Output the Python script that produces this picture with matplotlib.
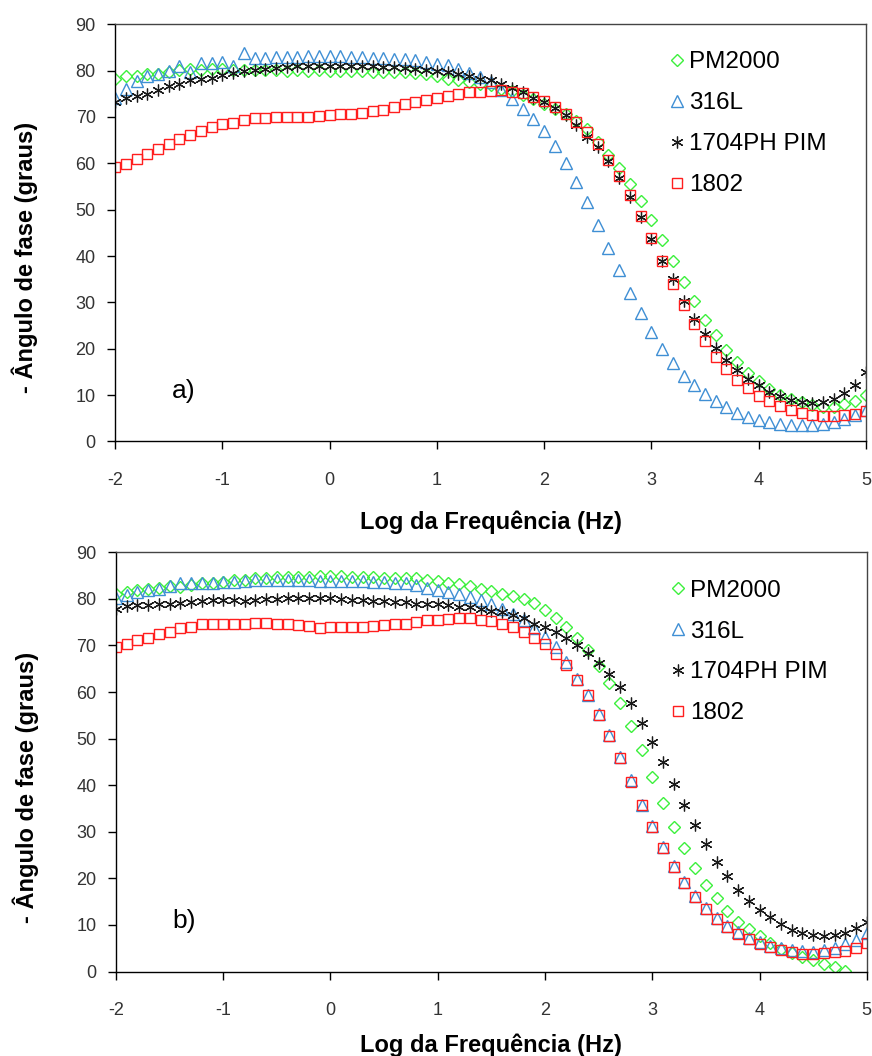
"""Phase angle vs log frequency (Bode plots) for four alloys, panels a) and b)."""

import matplotlib

matplotlib.use("Agg")
import matplotlib.pyplot as plt
import numpy as np

plt.rcParams["font.family"] = ["Liberation Sans", "DejaVu Sans"]
plt.rcParams["axes.unicode_minus"] = False

# log10 of frequency, measured every 0.1 decade
log_freq = np.round(np.linspace(-2.0, 5.0, 71), 1)

labels = ["PM2000", "316L", "1704PH PIM", "1802"]

# ---------------------------------------------------------------------------
# Panel a)
# ---------------------------------------------------------------------------
pm2000_a = [
    78.3, 78.8, 78.8, 79.2, 79.2, 79.7, 80.1, 80.4, 80.2, 80.4,
    80.4, 80.1, 80.1, 80.2, 80.2, 80.1, 80.0, 80.1, 80.0, 80.1,
    80.0, 80.0, 79.9, 79.9, 79.8, 79.8, 79.7, 79.6, 79.4, 79.2,
    78.9, 78.3, 77.9, 77.6, 77.2, 76.8, 76.1, 75.6, 74.7, 73.8,
    72.9, 71.8, 70.7, 69.1, 67.3, 64.6, 61.9, 58.9, 55.6, 51.8,
    47.7, 43.4, 38.9, 34.4, 30.2, 26.3, 22.9, 19.8, 17.1, 14.8,
    13.0, 11.4, 10.1, 9.2, 8.5, 7.8, 7.4, 7.4, 8.0, 8.7,
    10.1,
]
s316l_a = [
    74.2, 76.1, 77.8, 78.8, 79.2, 79.9, 80.9, 79.7, 81.6, 81.6,
    81.9, 81.0, 83.8, 82.8, 82.8, 82.9, 83.0, 83.0, 83.1, 83.1,
    83.2, 83.1, 83.0, 82.9, 82.8, 82.8, 82.6, 82.5, 82.2, 81.9,
    81.5, 81.2, 80.4, 79.4, 78.6, 77.6, 75.8, 73.8, 71.8, 69.6,
    67.0, 63.7, 60.1, 56.0, 51.7, 46.8, 41.8, 36.9, 32.1, 27.7,
    23.7, 20.0, 16.9, 14.2, 12.1, 10.3, 8.7, 7.4, 6.1, 5.2,
    4.7, 4.2, 3.8, 3.5, 3.5, 3.5, 3.8, 4.2, 4.8, 5.8,
    6.7,
]
pim_a = [
    73.2, 74.0, 74.5, 75.0, 75.9, 76.6, 77.1, 77.9, 78.3, 78.5,
    79.0, 79.4, 79.9, 80.1, 80.4, 80.6, 80.8, 80.9, 80.9, 81.0,
    81.0, 81.0, 80.9, 80.9, 80.9, 80.8, 80.7, 80.5, 80.3, 80.1,
    79.9, 79.7, 79.2, 78.8, 78.3, 77.9, 77.2, 76.3, 75.4, 74.2,
    73.2, 71.9, 70.4, 68.2, 65.7, 63.5, 60.5, 56.8, 52.8, 48.5,
    43.7, 39.0, 35.1, 30.4, 26.5, 23.2, 20.2, 17.6, 15.3, 13.5,
    12.1, 10.6, 9.7, 9.0, 8.5, 8.2, 8.5, 9.2, 10.4, 12.1,
    15.0,
]
a1802_a = [
    59.2, 59.9, 61.0, 62.1, 63.0, 64.2, 65.2, 66.1, 67.0, 67.8,
    68.5, 68.8, 69.4, 69.7, 69.8, 69.9, 70.0, 70.1, 70.1, 70.3,
    70.4, 70.6, 70.7, 70.9, 71.2, 71.6, 72.2, 72.7, 73.2, 73.6,
    74.0, 74.5, 74.9, 75.3, 75.4, 75.6, 75.8, 75.4, 75.2, 74.3,
    73.5, 72.2, 70.7, 68.9, 66.8, 64.1, 60.8, 57.2, 53.1, 48.6,
    43.8, 38.9, 34.0, 29.4, 25.3, 21.6, 18.3, 15.7, 13.3, 11.5,
    9.9, 8.7, 7.6, 6.7, 6.1, 5.6, 5.4, 5.4, 5.6, 6.0,
    6.5,
]

# ---------------------------------------------------------------------------
# Panel b)
# ---------------------------------------------------------------------------
pm2000_b = [
    81.0, 81.5, 81.9, 82.2, 82.4, 82.7, 82.6, 82.9, 83.3, 83.3,
    83.6, 84.0, 84.1, 84.4, 84.4, 84.7, 84.7, 84.8, 84.8, 84.9,
    84.9, 84.9, 84.8, 84.8, 84.7, 84.5, 84.5, 84.4, 84.4, 84.0,
    83.8, 83.4, 83.1, 82.7, 82.2, 81.7, 81.1, 80.6, 79.9, 79.1,
    77.6, 76.0, 74.0, 71.7, 69.1, 65.6, 62.0, 57.7, 52.7, 47.5,
    41.8, 36.2, 31.1, 26.5, 22.2, 18.6, 15.7, 13.0, 10.7, 9.1,
    7.7, 6.1, 4.8, 3.9, 3.2, 2.5, 1.7, 0.9, 0.2, -1.5,
    -3.0,
]
s316l_b = [
    80.1, 80.8, 81.5, 82.0, 82.2, 82.7, 83.4, 83.3, 83.4, 83.3,
    83.6, 83.6, 83.9, 84.0, 84.0, 84.1, 84.0, 84.0, 84.0, 83.9,
    83.9, 83.9, 83.8, 83.8, 83.7, 83.6, 83.4, 83.3, 82.9, 82.4,
    81.9, 81.5, 81.0, 80.4, 79.7, 79.0, 77.9, 76.7, 75.4, 73.8,
    71.8, 69.6, 66.5, 62.9, 59.3, 55.2, 50.8, 46.0, 41.1, 35.8,
    31.2, 26.7, 22.6, 19.2, 16.3, 13.7, 11.5, 9.8, 8.4, 7.3,
    6.3, 5.5, 5.0, 4.6, 4.3, 4.2, 4.6, 5.0, 5.9, 6.7,
    8.2,
]
pim_b = [
    77.9, 78.4, 78.6, 78.6, 78.9, 79.0, 79.2, 79.3, 79.6, 79.7,
    79.7, 79.7, 79.6, 79.7, 79.9, 79.9, 80.1, 80.1, 80.1, 80.1,
    80.1, 79.9, 79.7, 79.7, 79.6, 79.6, 79.3, 79.3, 79.0, 79.0,
    78.9, 78.6, 78.3, 78.3, 77.9, 77.5, 77.2, 76.5, 75.8, 74.7,
    74.0, 72.9, 71.7, 70.1, 68.3, 66.3, 63.8, 61.0, 57.6, 53.4,
    49.3, 45.0, 40.3, 35.7, 31.5, 27.4, 23.6, 20.4, 17.5, 15.2,
    13.2, 11.7, 10.2, 8.9, 8.2, 7.9, 7.7, 7.9, 8.2, 9.3,
    10.7,
]
a1802_b = [
    69.6, 70.4, 71.1, 71.7, 72.4, 72.9, 73.8, 74.0, 74.5, 74.7,
    74.7, 74.6, 74.6, 74.9, 74.9, 74.5, 74.5, 74.3, 74.1, 73.8,
    73.9, 73.9, 73.9, 73.9, 74.1, 74.3, 74.6, 74.7, 75.1, 75.4,
    75.4, 75.6, 75.8, 75.8, 75.4, 75.3, 74.7, 74.0, 72.9, 71.7,
    70.3, 68.1, 65.8, 62.6, 59.3, 55.0, 50.5, 45.8, 40.7, 35.7,
    31.0, 26.5, 22.4, 19.0, 16.0, 13.4, 11.2, 9.5, 8.1, 6.9,
    5.9, 5.2, 4.7, 4.2, 3.8, 3.8, 3.9, 4.1, 4.5, 5.0,
    6.1,
]

panels = [
    ("a)", [pm2000_a, s316l_a, pim_a, a1802_a]),
    ("b)", [pm2000_b, s316l_b, pim_b, a1802_b]),
]

styles = [
    dict(marker="D", ms=6.0, mec="#3cf03c", mew=1.0),
    dict(marker="^", ms=8.0, mec="#3f8fd4", mew=1.0),
    dict(marker=(6, 2, 0), ms=8.5, mec="#1a1a1a", mew=0.9),
    dict(marker="s", ms=7.5, mec="#ff1e1e", mew=1.0),
]

fig = plt.figure(figsize=(8.72, 10.56), dpi=100)
# [left, bottom, width, height] in figure fractions
rects = [
    [0.132, 0.582, 0.861, 0.395],
    [0.133, 0.080, 0.861, 0.397],
]

for rect, (tag, series) in zip(rects, panels):
    ax = fig.add_axes(rect)
    for vals, label, st in zip(series, labels, styles):
        ax.plot(log_freq, vals, ls="none", mfc="none", label=label, **st)

    ax.set_xlim(-2, 5)
    ax.set_ylim(0, 90)
    ax.set_xticks(range(-2, 6))
    ax.set_yticks(range(0, 91, 10))
    ax.tick_params(direction="out", length=6, width=1, labelsize=13,
                   labelcolor="#333333", top=False, right=False)
    ax.tick_params(axis="x", pad=16)
    ax.tick_params(axis="y", pad=8)
    for side in ["left", "bottom"]:
        ax.spines[side].set_color("black")
        ax.spines[side].set_linewidth(1.0)
    for side in ["top", "right"]:
        ax.spines[side].set_color("#444444")
        ax.spines[side].set_linewidth(1.0)

    ax.set_xlabel("Log da Frequência (Hz)", fontsize=17, fontweight="bold")
    ax.set_ylabel("- Ângulo de fase (graus)", fontsize=17, fontweight="bold")
    ax.yaxis.set_label_coords(-0.103, 0.44)

    ax.text(-1.47, 10.8, tag, fontsize=19, va="center", ha="left")

    ax.legend(loc="upper left", bbox_to_anchor=(0.739, 0.935), frameon=False,
              fontsize=17.5, handlelength=0.6, handletextpad=0.2,
              labelspacing=0.78, borderpad=0, borderaxespad=0)

fig.axes[0].xaxis.set_label_coords(0.5, -0.165)
fig.axes[1].xaxis.set_label_coords(0.5, -0.148)

fig.savefig("out.png", dpi=100)
